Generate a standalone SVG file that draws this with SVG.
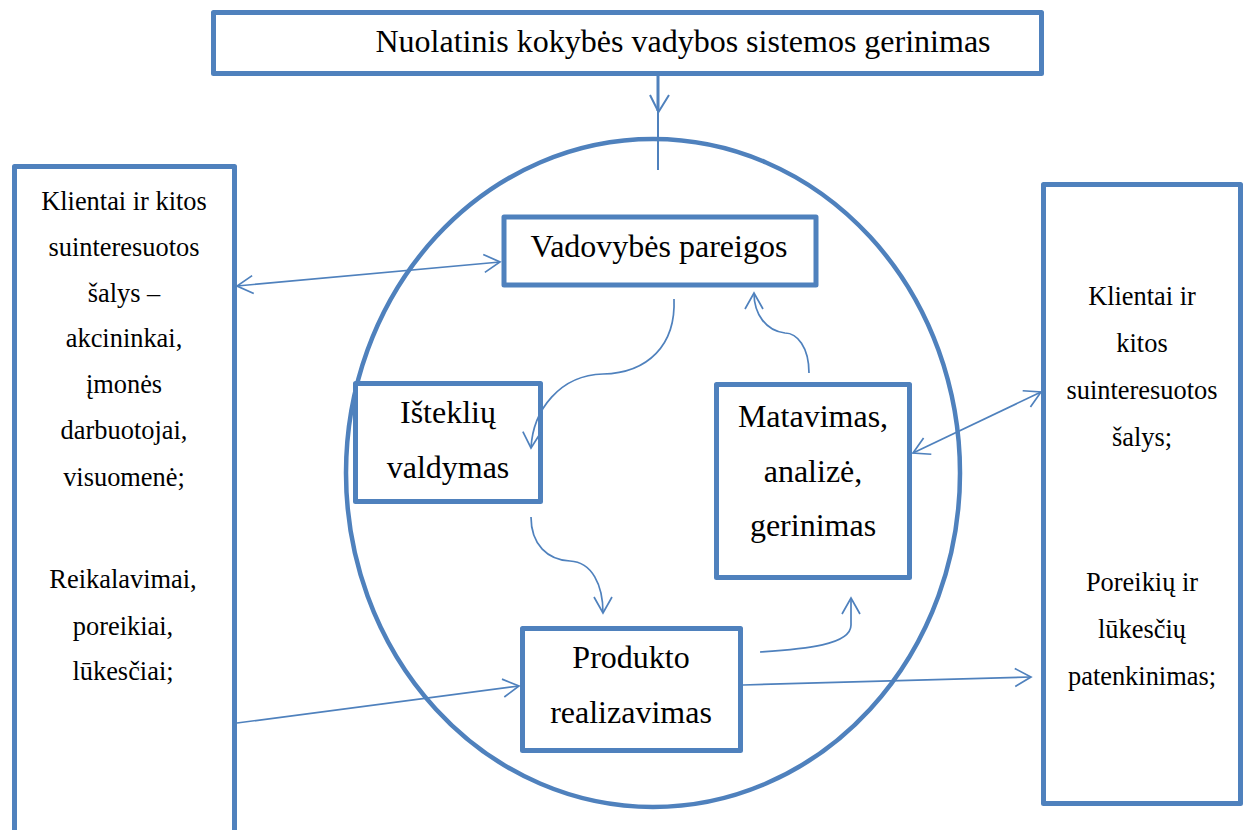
<svg xmlns="http://www.w3.org/2000/svg" width="1248" height="830" viewBox="0 0 1248 830">
  <style>
    .box { fill: #ffffff; stroke: #4F81BD; stroke-width: 5; stroke-linejoin: round; }
    .ring { fill: #ffffff; stroke: #4F81BD; stroke-width: 4.5; }
    .link { fill: none; stroke: #4F81BD; stroke-width: 1.7; }
    .big { font-size: 32px; fill: #000000; text-anchor: middle; }
    .side { font-size: 26.4px; fill: #000000; text-anchor: middle; }
  </style>
  <defs>
    <marker id="chev" markerUnits="userSpaceOnUse" viewBox="-18 -11 20 22" refX="0" refY="0" markerWidth="20" markerHeight="22" orient="auto-start-reverse" overflow="visible">
      <path d="M-16,-9 L0,0 L-16,9" fill="none" stroke="#4F81BD" stroke-width="1.7"/>
    </marker>
  </defs>

  <rect width="1248" height="830" fill="#ffffff"/>

  <!-- central cycle boundary -->
  <ellipse id="cycle" class="ring" cx="653" cy="473" rx="307" ry="334"/>

  <g font-family="Liberation Serif, Times New Roman, serif">
    <g id="improvement">
      <rect class="box" x="213.5" y="12.5" width="828" height="61"/>
      <text class="big" x="683" y="52">Nuolatinis kokybės vadybos sistemos gerinimas</text>
    </g>

    <g id="management">
      <rect class="box" x="504" y="217" width="312" height="68"/>
      <text class="big" x="659" y="257">Vadovybės pareigos</text>
    </g>

    <g id="resources">
      <rect class="box" x="355.5" y="383.5" width="185" height="118"/>
      <text class="big" x="448" y="423">Išteklių</text>
      <text class="big" x="448" y="478">valdymas</text>
    </g>

    <g id="measurement">
      <rect class="box" x="716.5" y="384.5" width="193" height="193"/>
      <text class="big" x="813" y="427">Matavimas,</text>
      <text class="big" x="813" y="482">analizė,</text>
      <text class="big" x="813" y="536">gerinimas</text>
    </g>

    <g id="product">
      <rect class="box" x="522.5" y="628.5" width="218" height="122"/>
      <text class="big" x="631" y="668">Produkto</text>
      <text class="big" x="631" y="723">realizavimas</text>
    </g>

    <g id="stakeholders-in">
      <rect class="box" x="14.5" y="166.5" width="220" height="720"/>
      <text class="side" x="124" y="210">Klientai ir kitos</text>
      <text class="side" x="124" y="256">suinteresuotos</text>
      <text class="side" x="124" y="302">šalys –</text>
      <text class="side" x="124" y="347">akcininkai,</text>
      <text class="side" x="124" y="393">įmonės</text>
      <text class="side" x="124" y="439">darbuotojai,</text>
      <text class="side" x="124" y="486">visuomenė;</text>
      <text class="side" x="123" y="588">Reikalavimai,</text>
      <text class="side" x="123" y="635">poreikiai,</text>
      <text class="side" x="123" y="680">lūkesčiai;</text>
    </g>

    <g id="stakeholders-out">
      <rect class="box" x="1043.5" y="184.5" width="197" height="619"/>
      <text class="side" x="1142" y="305">Klientai ir</text>
      <text class="side" x="1142" y="352">kitos</text>
      <text class="side" x="1142" y="399">suinteresuotos</text>
      <text class="side" x="1142" y="446">šalys;</text>
      <text class="side" x="1142" y="591">Poreikių ir</text>
      <text class="side" x="1142" y="638">lūkesčių</text>
      <text class="side" x="1142" y="685">patenkinimas;</text>
    </g>
  </g>

  <!-- connectors, drawn over the boxes -->
  <g id="connectors">
    <line x1="658" y1="76" x2="658" y2="111" stroke="#4F81BD" stroke-width="3"/>
    <line x1="658" y1="111" x2="658" y2="170" stroke="#4F81BD" stroke-width="2"/>
    <polyline points="650,95 658.5,112 669,95" fill="none" stroke="#4F81BD" stroke-width="2"/>

    <path class="link" d="M237,286 L500,262" marker-start="url(#chev)" marker-end="url(#chev)"/>
    <path class="link" d="M913,453 L1041,392" marker-start="url(#chev)" marker-end="url(#chev)"/>
    <path class="link" d="M237,723 L519,686" marker-end="url(#chev)"/>
    <path class="link" d="M743,685 L1031,677" marker-end="url(#chev)"/>

    <path class="link" d="M674,299 C676,345 648,373 603,374 C560,375 533,410 531,448" marker-end="url(#chev)"/>
    <path class="link" d="M531,517 C531,545 548,560 570,561 C592,562 603,585 603,613" marker-end="url(#chev)"/>
    <path class="link" d="M760,652 C805,649 851,645 851,625 L851,598" marker-end="url(#chev)"/>
    <path class="link" d="M809,373 C809,347 797,333 785,333 C766,331 754,314 754,293" marker-end="url(#chev)"/>
  </g>
</svg>
